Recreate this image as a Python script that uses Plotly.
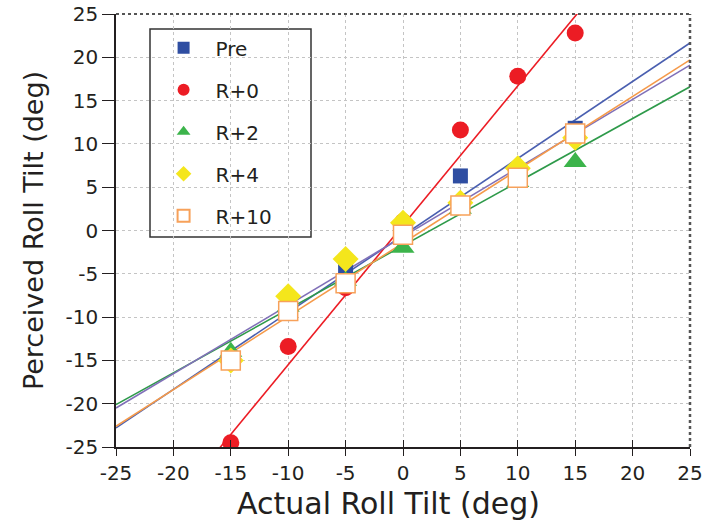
import plotly.graph_objects as go

# ---- data ----
tilt = [-15, -10, -5, 0, 5, 10, 15]
pre = [-14.8, -9.0, -4.4, 0.3, 6.3, 6.6, 11.8]
r0 = [-24.5, -13.4, -6.6, 1.0, 11.6, 17.8, 22.8]
r2 = [-14.0, -8.8, -5.8, -2.0, 2.5, 5.6, 7.9]
r4 = [-15.0, -7.6, -3.3, 0.9, 3.2, 7.2, 10.7]
r10 = [-15.0, -9.3, -6.1, -0.5, 2.9, 6.1, 11.2]

series_names = ["Pre", "R+0", "R+2", "R+4", "R+10"]
# fitted regression lines (slope, intercept)
fit_slope = [0.889, 1.61, 0.734, 0.792, 0.846]
fit_intercept = [-0.57, 0.6, -1.75, -0.7, -1.45]
fit_colors = ["#4a5fb0", "#ec1c24", "#2e9a4a", "#8070b8", "#f59a4a"]

tick_vals = [-25, -20, -15, -10, -5, 0, 5, 10, 15, 20, 25]
tick_text = ["-25", "-20", "-15", "-10", "-5", "0", "5", "10", "15", "20", "25"]

FONT = "DejaVu Sans"
TXT = "#231f20"

fig = go.Figure()

# regression lines (behind markers)
line_x = [-25, 25]
for s, b, c in zip(fit_slope, fit_intercept, fit_colors):
    fig.add_trace(go.Scatter(x=line_x, y=[s * x + b for x in line_x], mode="lines",
                             line=dict(color=c, width=1.6), showlegend=False,
                             hoverinfo="skip"))

# markers: draw order red, pre, green, yellow, R+10
marker_specs = [
    ("R+0", r0, dict(symbol="circle", size=17, color="#ec1c24"), 2),
    ("Pre", pre, dict(symbol="square", size=15, color="#2f4ea2"), 1),
    ("R+2", r2, dict(symbol="triangle-up", size=20, color="#3cb44b"), 3),
    ("R+4", r4, dict(symbol="diamond", size=20, color="#f4e61c"), 4),
    ("R+10", r10, dict(symbol="square", size=19, color="white",
                       line=dict(color="#f7a15a", width=1.5)), 5),
]
for name, ys, mk, rank in marker_specs:
    fig.add_trace(go.Scatter(x=tilt, y=ys, mode="markers", name=name, marker=mk,
                             legendrank=rank, legendgroup=name))

# invisible trace for the crossing tick overlay axis
fig.add_trace(go.Scatter(x=[0], y=[0], xaxis="x2", mode="markers",
                         marker=dict(opacity=0), showlegend=False, hoverinfo="skip"))

grid = dict(showgrid=True, gridcolor="#c4c4c4", gridwidth=1, griddash="dot", zeroline=False)

fig.update_layout(
    width=704, height=521,
    margin=dict(l=116, r=14, t=14, b=74),
    paper_bgcolor="white", plot_bgcolor="white",
    font=dict(family=FONT, color=TXT),
    xaxis=dict(range=[-25, 25], tickvals=tick_vals, ticktext=tick_text, automargin=False,
               ticks="outside", ticklen=7, tickwidth=1.3, tickcolor=TXT,
               showline=True, linecolor=TXT, linewidth=1.5, ticklabeloverflow="allow",
               tickfont=dict(size=20, family=FONT, color=TXT),
               **grid),
    xaxis2=dict(range=[-25, 25], overlaying="x", anchor="y", side="bottom", automargin=False,
                tickvals=tick_vals, ticks="inside", ticklen=7, tickwidth=1.3, tickcolor=TXT,
                showticklabels=False, showgrid=False, zeroline=False, showline=False),
    yaxis=dict(range=[-25, 25], tickvals=tick_vals, ticktext=tick_text, automargin=False,
               ticks="outside", ticklen=12, tickwidth=1.3, tickcolor=TXT,
               showline=True, linecolor=TXT, linewidth=1.5, ticklabeloverflow="allow",
               tickfont=dict(size=20, family=FONT, color=TXT),
               title=dict(text="Perceived Roll Tilt (deg)", font=dict(size=27, family=FONT, color=TXT),
                          standoff=14),
               **grid),
    legend=dict(x=0.062, y=0.967, xanchor="left", yanchor="top",
                bgcolor="rgba(0,0,0,0)", borderwidth=0,
                font=dict(size=20, family=FONT, color=TXT),
                itemwidth=54, tracegroupgap=13, traceorder="grouped",
                itemsizing="constant"),
    annotations=[
        dict(text="Actual Roll Tilt (deg)", xref="paper", yref="paper",
             x=(388 - 116) / 574, y=(447 - 503) / 433, xanchor="center", yanchor="middle",
             showarrow=False, font=dict(size=30, family=FONT, color=TXT)),
    ],
    shapes=[
        # legend box
        dict(type="rect", xref="paper", yref="paper",
             x0=(150 - 116) / 574, x1=(311 - 116) / 574,
             y0=(447 - 237) / 433, y1=(447 - 29) / 433,
             line=dict(color="#333333", width=1.5), fillcolor="white", layer="below"),
        # top and right frame (dotted)
        dict(type="line", xref="paper", yref="paper", x0=0, x1=1, y0=1, y1=1,
             line=dict(color="#555555", width=2, dash="dot")),
        dict(type="line", xref="paper", yref="paper", x0=1, x1=1, y0=0, y1=1,
             line=dict(color="#555555", width=2.5, dash="dot")),
    ],
)

# remove the default page margin so the 704x521 figure fills the window exactly
fig.write_html("out.html", config={"displayModeBar": False},
               post_script="document.body.style.margin='0';document.body.style.overflow='hidden';")
